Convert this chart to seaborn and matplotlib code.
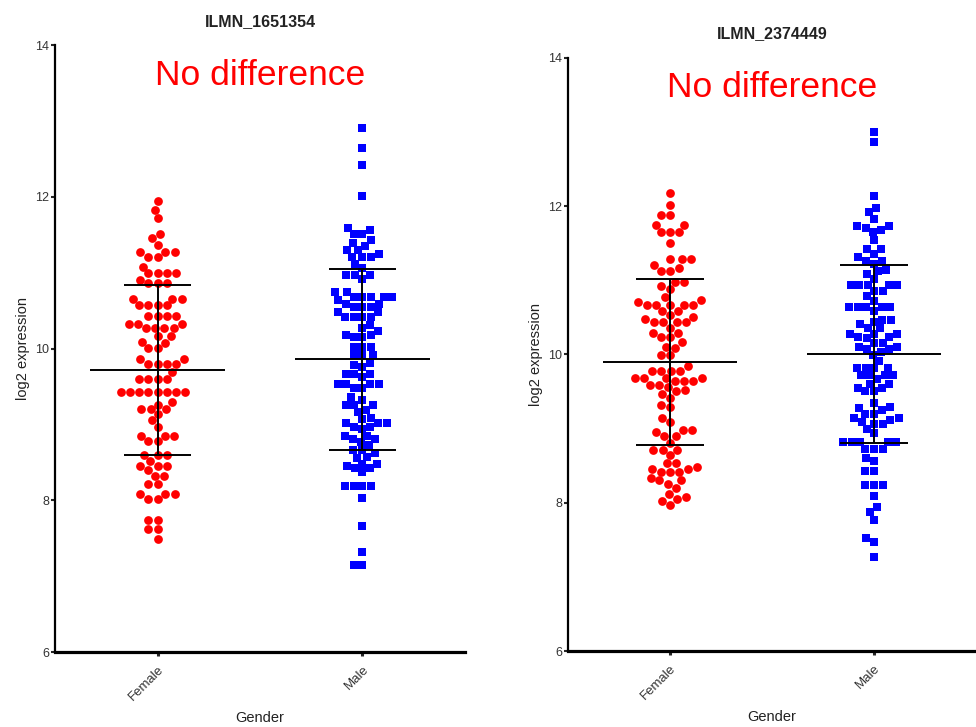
import numpy as np
import pandas as pd
import matplotlib
matplotlib.use("Agg")
import matplotlib.pyplot as plt
import seaborn as sns

sns.set_theme(style="white")
plt.rcParams['font.family'] = ['Liberation Sans', 'DejaVu Sans']

categories = ["Female", "Male"]
panel_titles = ["ILMN_1651354", "ILMN_2374449"]
annotation = "No difference"
x_label = "Gender"
y_label = "log2 expression"
y_ticks = [6, 8, 10, 12, 14]

# ILMN_1651354
p1_female = [11.94, 11.83, 11.72, 11.51, 11.46, 11.37, 11.27, 11.27, 11.27, 11.21, 11.21,
             11.08, 10.99, 10.99, 10.99, 10.99, 10.91, 10.86, 10.86, 10.86, 10.66, 10.66, 10.66,
             10.57, 10.57, 10.57, 10.57, 10.43, 10.43, 10.43, 10.43, 10.33, 10.33, 10.33,
             10.27, 10.27, 10.27, 10.27, 10.16, 10.16, 10.09, 10.07, 10.01, 10.01, 9.86, 9.86,
             9.80, 9.80, 9.80, 9.80, 9.69, 9.60, 9.60, 9.60, 9.60,
             9.43, 9.43, 9.43, 9.43, 9.43, 9.43, 9.43, 9.43, 9.29, 9.26, 9.20, 9.20, 9.20,
             9.14, 9.06, 8.97, 8.85, 8.85, 8.85, 8.78, 8.78, 8.60, 8.60, 8.60, 8.52,
             8.45, 8.45, 8.45, 8.40, 8.32, 8.32, 8.21, 8.21, 8.08, 8.08, 8.08, 8.02, 8.02,
             7.74, 7.74, 7.62, 7.62, 7.49]
p1_male = [12.91, 12.64, 12.42, 12.01, 11.59, 11.56, 11.51, 11.51, 11.43, 11.39, 11.35,
           11.30, 11.30, 11.25, 11.21, 11.21, 11.21, 11.11, 11.06, 10.97, 10.97, 10.97, 10.92,
           10.74, 10.74, 10.68, 10.68, 10.68, 10.68, 10.68, 10.64, 10.59, 10.59,
           10.55, 10.55, 10.55, 10.48, 10.48, 10.42, 10.42, 10.42, 10.42, 10.31, 10.27, 10.23,
           10.18, 10.18, 10.15, 10.15, 10.02, 10.02, 10.02, 9.91, 9.91, 9.91, 9.81, 9.78, 9.76,
           9.66, 9.66, 9.66, 9.62, 9.53, 9.53, 9.53, 9.53, 9.48, 9.48, 9.36, 9.32,
           9.26, 9.26, 9.26, 9.19, 9.16, 9.09, 9.07, 9.02, 9.02, 9.02, 8.97, 8.97, 8.94,
           8.85, 8.85, 8.81, 8.81, 8.77, 8.73, 8.66, 8.66, 8.62, 8.57, 8.56, 8.48, 8.48,
           8.45, 8.42, 8.42, 8.37, 8.19, 8.19, 8.19, 8.19, 8.03, 7.66, 7.32, 7.15, 7.15]

# ILMN_2374449
p2_female = [12.17, 12.01, 11.88, 11.88, 11.75, 11.75, 11.65, 11.65, 11.65, 11.50,
             11.28, 11.28, 11.28, 11.21, 11.17, 11.13, 11.13, 10.98, 10.98, 10.92, 10.88,
             10.77, 10.74, 10.71, 10.67, 10.67, 10.67, 10.67, 10.67, 10.58, 10.58, 10.53,
             10.51, 10.48, 10.44, 10.44, 10.44, 10.44, 10.36, 10.29, 10.29, 10.24, 10.24,
             10.17, 10.10, 10.09, 9.99, 9.99, 9.84, 9.78, 9.78, 9.78, 9.78,
             9.68, 9.68, 9.68, 9.68, 9.64, 9.64, 9.64, 9.59, 9.59, 9.56, 9.52, 9.50, 9.47,
             9.41, 9.32, 9.29, 9.14, 9.09, 8.98, 8.98, 8.95, 8.90, 8.90, 8.81,
             8.71, 8.71, 8.71, 8.64, 8.53, 8.53, 8.48, 8.45, 8.45, 8.42, 8.42, 8.42,
             8.33, 8.30, 8.30, 8.25, 8.20, 8.12, 8.08, 8.05, 8.02, 7.97]
p2_male = [13.00, 12.86, 12.13, 11.98, 11.92, 11.83, 11.73, 11.73, 11.71, 11.68, 11.65,
           11.54, 11.42, 11.42, 11.36, 11.31, 11.26, 11.26, 11.22, 11.14, 11.12, 11.09, 11.02,
           10.94, 10.94, 10.94, 10.94, 10.94, 10.86, 10.86, 10.79, 10.72,
           10.64, 10.64, 10.64, 10.64, 10.64, 10.59, 10.47, 10.47, 10.44, 10.41, 10.36, 10.36,
           10.28, 10.28, 10.28, 10.24, 10.24, 10.22, 10.16, 10.16, 10.10, 10.10, 10.07, 10.07,
           10.03, 9.99, 9.91, 9.82, 9.82, 9.82, 9.82, 9.72, 9.72, 9.72, 9.72, 9.67,
           9.60, 9.60, 9.55, 9.55, 9.50, 9.50, 9.35, 9.29, 9.28, 9.25, 9.20, 9.20,
           9.14, 9.14, 9.11, 9.09, 9.06, 9.06, 9.00, 8.94, 8.82, 8.82, 8.82, 8.82, 8.82,
           8.73, 8.73, 8.73, 8.60, 8.56, 8.43, 8.43, 8.24, 8.24, 8.24, 8.09, 7.94, 7.87,
           7.77, 7.52, 7.47, 7.27]

panels = [(p1_female, p1_male), (p2_female, p2_male)]
group_colors = {"Female": "#FF0000", "Male": "#0000FF"}
group_markers = {"Female": "o", "Male": "s"}
group_sizes = {"Female": 6.3, "Male": 5.9}

fig = plt.figure(figsize=(9.76, 7.27), dpi=100)
axes_rects = [[0.0564, 0.103, 0.420, 0.835], [0.582, 0.1045, 0.418, 0.816]]

for rect, title, (fem, mal) in zip(axes_rects, panel_titles, panels):
    ax = fig.add_axes(rect)
    df = pd.DataFrame({
        "Gender": ["Female"] * len(fem) + ["Male"] * len(mal),
        "value": list(fem) + list(mal),
    })
    for g in categories:
        sub = df[df["Gender"] == g]
        sns.swarmplot(data=sub, x="Gender", y="value", order=categories, ax=ax,
                      color=group_colors[g], marker=group_markers[g],
                      size=group_sizes[g], linewidth=0, warn_thresh=1.0)
    stats = df.groupby("Gender")["value"].agg(["mean", "std"]).reindex(categories)
    pos = np.arange(len(categories))
    ax.hlines(stats["mean"], pos - 0.33, pos + 0.33, color="black", lw=1.4, zorder=5)
    ax.hlines(stats["mean"] + stats["std"], pos - 0.165, pos + 0.165, color="black", lw=1.4, zorder=5)
    ax.hlines(stats["mean"] - stats["std"], pos - 0.165, pos + 0.165, color="black", lw=1.4, zorder=5)
    ax.vlines(pos, stats["mean"] - stats["std"], stats["mean"] + stats["std"], color="black", lw=1.4, zorder=5)

    ax.set_xlim(-0.5, 1.5)
    ax.set_ylim(6, 14)
    ax.set_yticks(y_ticks)
    ax.set_yticklabels([str(t) for t in y_ticks], fontsize=9, color="#333333")
    ax.set_xticks(pos)
    ax.set_xticklabels(categories, rotation=45, ha="right", rotation_mode="anchor",
                       fontsize=9.5, color="#333333")
    ax.set_xlabel(x_label, fontsize=10.5, color="#222222", labelpad=6)
    ax.set_ylabel(y_label, fontsize=10.5, color="#222222", labelpad=4)
    ax.set_title(title, fontsize=11.5, fontweight="bold", color="#222222", pad=14)
    ax.text(0.5, 0.95, annotation, transform=ax.transAxes, ha="center", va="center",
            fontsize=25.5, color="#FF0000")
    for s in ["top", "right"]:
        ax.spines[s].set_visible(False)
    ax.spines["left"].set_linewidth(1.6)
    ax.spines["bottom"].set_linewidth(2.3)
    ax.spines["left"].set_color("black")
    ax.spines["bottom"].set_color("black")
    ax.tick_params(axis="y", direction="out", length=3, width=1.5, pad=1, left=True)
    ax.tick_params(axis="x", direction="out", length=3, width=2.2, pad=5, bottom=True)
    ax.grid(False)

fig.savefig("out.png", dpi=100)
